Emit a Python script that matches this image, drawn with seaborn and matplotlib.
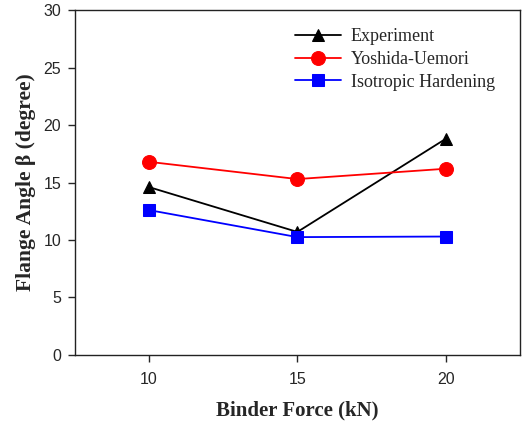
import matplotlib
matplotlib.use("Agg")
import matplotlib.pyplot as plt
import seaborn as sns
import pandas as pd

binder_force = [10, 15, 20]
experiment = [14.6, 10.7, 18.8]
yoshida_uemori = [16.8, 15.3, 16.2]
isotropic = [12.6, 10.25, 10.3]
series_names = ["Experiment", "Yoshida-Uemori", "Isotropic Hardening"]

rows = []
for name, vals in zip(series_names, [experiment, yoshida_uemori, isotropic]):
    for x, y in zip(binder_force, vals):
        rows.append({"Binder Force": x, "Angle": y, "Series": name})
df = pd.DataFrame(rows)

sns.set_style("ticks")
fig = plt.figure(figsize=(5.24, 4.23), dpi=100)
ax = fig.add_axes([0.143, 0.161, 0.849, 0.815])

palette = {"Experiment": "black", "Yoshida-Uemori": "#ff0000", "Isotropic Hardening": "#0000ff"}
markers = {"Experiment": "^", "Yoshida-Uemori": "o", "Isotropic Hardening": "s"}
sizes_map = {"Experiment": 9, "Yoshida-Uemori": 10, "Isotropic Hardening": 8.5}

for name in series_names:
    sub = df[df["Series"] == name]
    sns.lineplot(data=sub, x="Binder Force", y="Angle", color=palette[name],
                 marker=markers[name], markersize=sizes_map[name],
                 markeredgecolor=palette[name], linewidth=1.3, label=name, ax=ax)

ax.set_xlim(7.5, 22.5)
ax.set_ylim(0, 30)
ax.set_xticks(binder_force)
ax.set_yticks([0, 5, 10, 15, 20, 25, 30])
for sp in ax.spines.values():
    sp.set_linewidth(1.0)
    sp.set_color("#222222")
ax.tick_params(direction="out", length=5, width=1, labelsize=11.5, top=False, right=False)
for lab in ax.get_xticklabels() + ax.get_yticklabels():
    lab.set_fontfamily("Liberation Sans")
ax.tick_params(axis="x", pad=7)
ax.tick_params(axis="y", pad=5)

ax.set_xlabel("Binder Force (kN)", fontfamily="Liberation Serif", fontweight="bold", fontsize=15, labelpad=10)
ax.set_ylabel("Flange Angle β (degree)", fontfamily="Liberation Serif", fontweight="bold", fontsize=15.5, labelpad=5)

leg = ax.legend(loc="upper right", bbox_to_anchor=(0.981, 0.995), frameon=False,
                prop={"family": "Liberation Serif", "size": 13}, handlelength=2.55,
                handletextpad=0.55, labelspacing=0.32)

fig.savefig("out.png", dpi=100)
